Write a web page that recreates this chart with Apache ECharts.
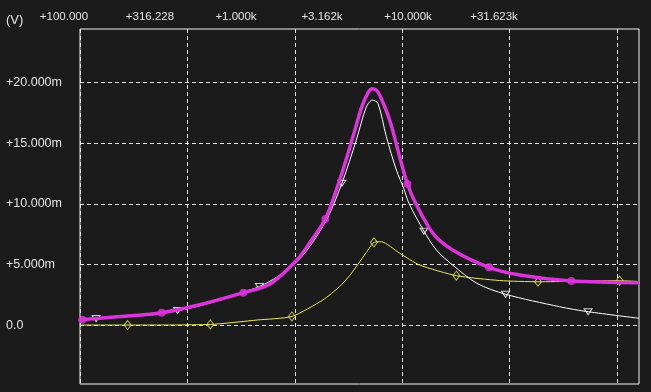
<!DOCTYPE html>
<html><head><meta charset="utf-8">
<script src="https://cdn.jsdelivr.net/npm/echarts@6/dist/echarts.min.js"></script>
<style>html,body{margin:0;padding:0;background:#1b1b1b;}#c{width:651px;height:392px;}</style>
</head><body><div id="c"></div>
<script>
// Tick labels / gridline positions
const topTickLabels = ['+100.000', '+316.228', '+1.000k', '+3.162k', '+10.000k', '+31.623k'];
const gridFreqs = [100, 316.228, 1000, 3162.28, 10000, 31622.8];
const yTicks = [0, 5, 10, 15, 20]; // mV

// Magenta curve (mV)
const magentaFreq = [100, 153, 240, 360, 576, 763, 1030, 1197, 1387, 1617, 1865, 2040, 2189, 2296, 2390, 2482, 2763, 3076, 3344, 3651, 4396, 5428, 8010, 11130, 19380, 40000];
const magentaVal  = [0.45, 0.72, 1.04, 1.69, 2.69, 3.38, 5.44, 7.03, 8.76, 11.98, 15.55, 17.91, 19.17, 19.5, 19.4, 18.99, 16.93, 13.9, 11.65, 10.06, 7.58, 6.21, 4.78, 4.15, 3.65, 3.51];
const magentaMarkFreq = [102.5, 240, 576, 1386, 3343, 8018, 19360];
const magentaMarkVal  = [0.45, 1.04, 2.69, 8.76, 11.65, 4.78, 3.65];

// White curve (mV)
const whiteFreq = [100, 119, 285, 684, 1030, 1387, 1656, 1933, 2152, 2296, 2438, 2667, 2969, 3211, 3398, 3989, 4559, 5445, 7043, 9570, 17090, 23180, 40000];
const whiteVal  = [0.42, 0.56, 1.2, 3.2, 5.3, 8.52, 11.71, 15.28, 18.0, 18.57, 18.3, 15.55, 12.8, 11.3, 10.06, 7.77, 6.21, 4.95, 3.46, 2.56, 1.53, 1.12, 0.58];
const whiteMarkFreq = [118.9, 284.6, 683.6, 1656, 3989, 9570, 23180];
const whiteMarkVal  = [0.56, 1.22, 3.2, 11.71, 7.77, 2.56, 1.12];

// Yellow curve (mV)
const yellowFreq = [100, 167, 404, 671, 970, 1352, 1617, 1800, 1967, 2150, 2335, 2528, 3076, 3811, 5650, 8995, 13550, 32510, 40000];
const yellowVal  = [0.02, 0.02, 0.07, 0.44, 0.73, 2.09, 3.2, 4.1, 5.03, 6.0, 6.84, 6.89, 5.94, 4.97, 4.09, 3.69, 3.59, 3.68, 3.61];
const yellowMarkFreq = [166.6, 404.3, 969.4, 2335, 5649, 13550, 32510];
const yellowMarkVal  = [0.02, 0.07, 0.73, 6.84, 4.09, 3.59, 3.68];

const zip = (a, b) => a.map((v, i) => [v, b[i]]);
const BG = '#1b1b1b';
const TXT = '#e4e4e4';
const MAG = '#dd33dd';
const YEL = '#e8e860';
const FONT = 'Liberation Sans, Arial, sans-serif';

const chart = echarts.init(document.getElementById('c'));
chart.setOption({
  backgroundColor: BG,
  animation: false,
  title: { text: '(V)', left: 6, top: 14, padding: 0, textStyle: { color: TXT, fontSize: 13, fontWeight: 'normal', fontFamily: FONT } },
  grid: [
    { left: 80, top: 29, width: 559, height: 355, show: true, borderColor: '#f2f2f2', borderWidth: 1, backgroundColor: 'transparent' },
    { left: 64, top: 29, width: 430, height: 355, show: false }
  ],
  xAxis: [
    { type: 'log', logBase: 10, min: 100, max: 40000, gridIndex: 0,
      axisLine: { show: false }, axisLabel: { show: false },
      axisTick: { show: false, customValues: gridFreqs },
      splitLine: { show: true, lineStyle: { color: '#e8e8e8', type: [4, 3], width: 1 } } },
    { type: 'category', gridIndex: 1, position: 'top', data: topTickLabels, boundaryGap: false,
      axisLine: { show: false }, axisTick: { show: false }, splitLine: { show: false },
      axisLabel: { interval: 0, margin: 6, color: TXT, fontSize: 11.5, fontFamily: FONT } }
  ],
  yAxis: [
    { type: 'value', gridIndex: 0, min: -4.84, max: 24.43,
      axisLine: { show: false },
      axisTick: { show: false, customValues: yTicks },
      axisLabel: { customValues: yTicks, align: 'left', margin: 74, color: TXT, fontSize: 12.5, fontFamily: FONT,
        formatter: v => v === 0 ? '0.0' : '+' + v.toFixed(3) + 'm' },
      splitLine: { show: true, lineStyle: { color: '#e8e8e8', type: [4, 3], width: 1 } } },
    { type: 'value', gridIndex: 1, show: false }
  ],
  series: [
    { type: 'line', name: 'yellow', data: zip(yellowFreq, yellowVal), showSymbol: false, smooth: 0.2,
      lineStyle: { color: YEL, width: 1 } },
    { type: 'line', name: 'white', data: zip(whiteFreq, whiteVal), showSymbol: false, smooth: 0.3,
      lineStyle: { color: '#ffffff', width: 1 } },
    { type: 'line', name: 'magenta', data: zip(magentaFreq, magentaVal), showSymbol: false, smooth: 0.3,
      lineStyle: { color: MAG, width: 3.5 } },
    { type: 'scatter', data: zip(yellowMarkFreq, yellowMarkVal), symbol: 'diamond', symbolSize: [7, 9],
      itemStyle: { color: BG, borderColor: YEL, borderWidth: 1 } },
    { type: 'scatter', data: zip(whiteMarkFreq, whiteMarkVal), symbol: 'triangle', symbolRotate: 180, symbolSize: [8, 6],
      itemStyle: { color: BG, borderColor: '#ffffff', borderWidth: 1 } },
    { type: 'scatter', data: zip(magentaMarkFreq, magentaMarkVal), symbol: 'circle', symbolSize: 8,
      itemStyle: { color: MAG } }
  ]
});
</script>
</body></html>
